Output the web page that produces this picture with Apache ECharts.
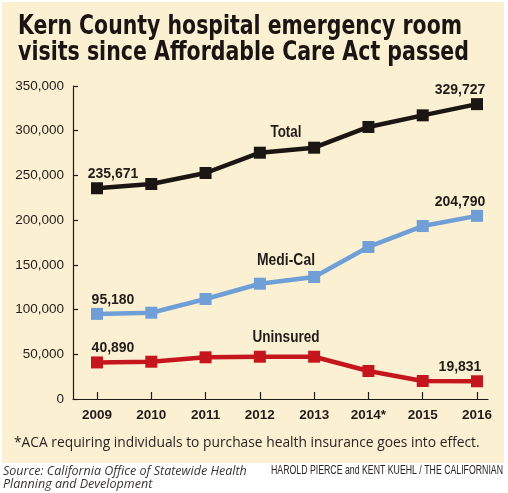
<!DOCTYPE html>
<html><head><meta charset="utf-8">
<script src="https://cdn.jsdelivr.net/npm/echarts@6/dist/echarts.min.js"></script>
<style>html,body{margin:0;padding:0;background:#fff}#c{width:508px;height:493px}</style>
</head><body><div id="c"></div>
<script>
const categories = ['2009','2010','2011','2012','2013','2014*','2015','2016'];
const totalVisits = [235671, 240400, 252700, 275400, 281000, 304200, 317200, 329727];
const mediCalVisits = [95180, 96500, 111800, 128900, 136400, 170000, 193400, 204790];
const uninsuredVisits = [40890, 41700, 46600, 47300, 47300, 31300, 20100, 19831];
const yTicks = [0, 50000, 100000, 150000, 200000, 250000, 300000, 350000];

const INK = '#221c19';
const BOLD = '"Liberation Sans",Arial,sans-serif';
const mctx = document.createElement('canvas').getContext('2d');
function fitScale(text, font, w) { mctx.font = font; return w / mctx.measureText(text).width; }
function fitSize(text, family, w) { mctx.font = '20px ' + family; return 20 * w / mctx.measureText(text).width; }

function withEndLabels(vals) {
  const last = vals.length - 1;
  return vals.map((v, i) => {
    if (i === 0) return {value: v, label: {show: true, offset: [16, 0]}};
    if (i === last) return {value: v, label: {show: true, offset: [-17, 0]}};
    return v;
  });
}
function lineSeries(name, vals, color) {
  return {
    name, type: 'line', xAxisIndex: 0, yAxisIndex: 0,
    data: withEndLabels(vals),
    symbol: 'rect', symbolSize: 12,
    lineStyle: {color, width: 4.5},
    itemStyle: {color},
    label: {show: false, position: 'top', distance: 1, color: INK,
      fontFamily: BOLD, fontWeight: 'bold', fontSize: 14,
      formatter: p => p.value.toLocaleString('en-US')},
    emphasis: {disabled: true}, animation: false, z: 3
  };
}
function fitText(text, x, y, w, font, align, fill) {
  return {type: 'text', x, y, scaleX: fitScale(text, font, w), silent: true,
    style: {text, font, fill: fill || INK, align, verticalAlign: 'middle'}};
}

const T1 = 'Kern County hospital emergency room';
const T2 = 'visits since Affordable Care Act passed';
const TF = 'bold 26px "DejaVu Sans Condensed","DejaVu Sans",sans-serif';
const NF = 'bold 16px ' + BOLD;
const FOOT = '*ACA requiring individuals to purchase health insurance goes into effect.';
const SRC1 = 'Source: California Office of Statewide Health';
const SRC2 = 'Planning and Development';
const CREDIT = 'HAROLD PIERCE and KENT KUEHL / THE CALIFORNIAN';
const footSize = fitSize(FOOT, '"Open Sans",sans-serif', 466);
mctx.font = 'italic 20px "Open Sans",sans-serif';
const srcSize = 20 * 244 / mctx.measureText(SRC1).width;

const chart = echarts.init(document.getElementById('c'), null, {renderer: 'canvas'});
chart.setOption({
  animation: false,
  backgroundColor: '#ffffff',
  grid: [
    {left: 97, right: 31, top: 86, bottom: 94},
    {left: 73, right: 20, top: 86, bottom: 94}
  ],
  xAxis: [
    {type: 'category', gridIndex: 0, data: categories, boundaryGap: false,
      axisLine: {show: false},
      axisTick: {show: true, inside: true, length: 7, interval: 0, lineStyle: {color: INK, width: 1.2}},
      axisLabel: {color: INK, fontFamily: BOLD, fontWeight: 'bold', fontSize: 13.5, margin: 9, interval: 0},
      splitLine: {show: false}},
    {type: 'value', gridIndex: 1, min: 0, max: 1, show: true,
      axisLine: {show: true, lineStyle: {color: INK, width: 1.2}},
      axisTick: {show: false}, axisLabel: {show: false}, splitLine: {show: false}}
  ],
  yAxis: [
    {type: 'value', gridIndex: 0, min: yTicks[0], max: yTicks[yTicks.length - 1], interval: 50000,
      offset: 24,
      axisLine: {show: true, lineStyle: {color: INK, width: 1.2}},
      axisTick: {show: true, inside: true, length: 5, lineStyle: {color: INK, width: 1.2}},
      axisLabel: {color: INK, fontFamily: BOLD, fontSize: 13.5, margin: 9,
        formatter: v => v.toLocaleString('en-US')},
      splitLine: {show: false}},
    {type: 'value', gridIndex: 1, show: false, min: 0, max: 1}
  ],
  graphic: [
    {type: 'rect', z: -10, shape: {x: 2, y: 2, width: 502, height: 461}, style: {fill: '#fbf0d2'}, silent: true},
    fitText(T1, 18, 27, 444, TF, 'left', '#1a1512'),
    fitText(T2, 18, 53, 451, TF, 'left', '#1a1512'),
    fitText('Total', 286, 133, 31, NF, 'center'),
    fitText('Medi-Cal', 286, 261, 58, NF, 'center'),
    fitText('Uninsured', 286, 338, 67, NF, 'center'),
    {type: 'text', x: 14, y: 443, silent: true, style: {text: FOOT,
      font: footSize.toFixed(2) + 'px "Open Sans",sans-serif', fill: '#2a2422', verticalAlign: 'middle'}},
    {type: 'text', x: 3, y: 471, silent: true, style: {text: SRC1,
      font: 'italic ' + srcSize.toFixed(2) + 'px "Open Sans",sans-serif', fill: '#3a3533', verticalAlign: 'middle'}},
    {type: 'text', x: 3, y: 484, silent: true, style: {text: SRC2,
      font: 'italic ' + srcSize.toFixed(2) + 'px "Open Sans",sans-serif', fill: '#3a3533', verticalAlign: 'middle'}},
    fitText(CREDIT, 503, 471, 232, '12px ' + BOLD, 'right', '#2a2422')
  ],
  series: [
    lineSeries('Total', totalVisits, '#1c1613'),
    lineSeries('Medi-Cal', mediCalVisits, '#6f9fd6'),
    lineSeries('Uninsured', uninsuredVisits, '#c5161e')
  ]
});
</script></body></html>
